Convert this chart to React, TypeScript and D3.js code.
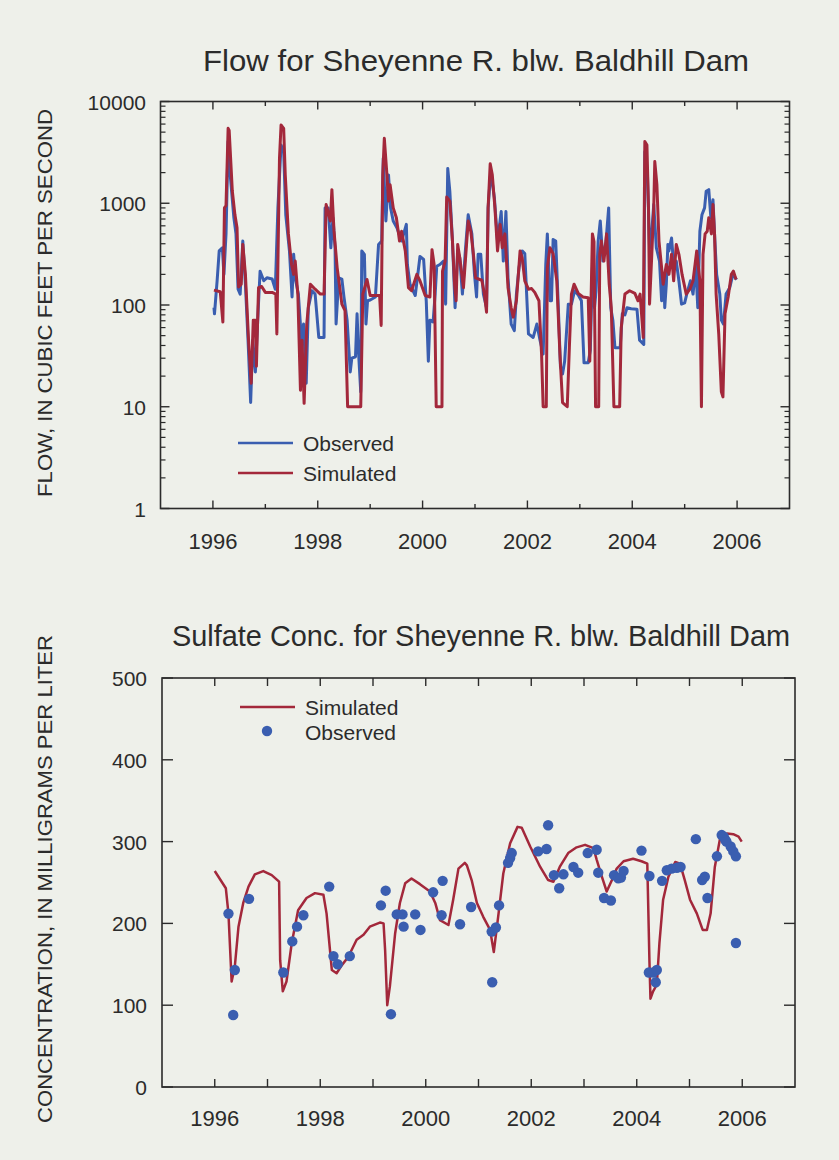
import React from "react";
import * as d3 from "d3";

// Axis ticks
const yearTicks = [1996, 1997, 1998, 1999, 2000, 2001, 2002, 2003, 2004, 2005, 2006];
const yearLabels = [1996, 1998, 2000, 2002, 2004, 2006];
const flowTicks = [1, 10, 100, 1000, 10000];
const concTicks = [0, 100, 200, 300, 400, 500];

// Flow, observed (cubic feet per second)
const obsFlowYear = [
  1996.02, 1996.03, 1996.08, 1996.12, 1996.18, 1996.21, 1996.25, 1996.29, 1996.33, 1996.4,
  1996.44, 1996.48, 1996.52, 1996.57, 1996.62, 1996.67, 1996.72, 1996.76, 1996.81, 1996.86,
  1996.9, 1996.97, 1997.03, 1997.13, 1997.19, 1997.24, 1997.3, 1997.35, 1997.39, 1997.46,
  1997.51, 1997.54, 1997.58, 1997.63, 1997.69, 1997.73, 1997.78, 1997.82, 1997.89, 1997.95,
  1998.02, 1998.12, 1998.14, 1998.2, 1998.25, 1998.29, 1998.33, 1998.35, 1998.4, 1998.46,
  1998.5, 1998.56, 1998.62, 1998.65, 1998.72, 1998.75, 1998.78, 1998.82, 1998.84, 1998.89,
  1998.92, 1998.95, 1999.0, 1999.1, 1999.16, 1999.22, 1999.25, 1999.3, 1999.35, 1999.39,
  1999.44, 1999.51, 1999.6, 1999.69, 1999.71, 1999.76, 1999.86, 1999.95, 2000.02, 2000.07,
  2000.11, 2000.14, 2000.2, 2000.24, 2000.27, 2000.33, 2000.4, 2000.44, 2000.48, 2000.52,
  2000.57, 2000.62, 2000.67, 2000.71, 2000.76, 2000.82, 2000.87, 2000.94, 2000.99, 2001.03,
  2001.06, 2001.11, 2001.16, 2001.22, 2001.25, 2001.3, 2001.37, 2001.43, 2001.5, 2001.54,
  2001.59, 2001.63, 2001.69, 2001.75, 2001.79, 2001.84, 2001.9, 2001.95, 2002.02, 2002.11,
  2002.18, 2002.24, 2002.3, 2002.35, 2002.38, 2002.43, 2002.46, 2002.49, 2002.54, 2002.59,
  2002.63, 2002.67, 2002.71, 2002.78, 2002.84, 2002.9, 2002.97, 2003.03, 2003.08, 2003.16,
  2003.2, 2003.24, 2003.28, 2003.31, 2003.35, 2003.39, 2003.44, 2003.5, 2003.55, 2003.59,
  2003.63, 2003.67, 2003.77, 2003.81, 2003.86, 2003.9, 2003.98, 2004.09, 2004.14, 2004.22,
  2004.24, 2004.29, 2004.33, 2004.37, 2004.41, 2004.46, 2004.52, 2004.56, 2004.6, 2004.62,
  2004.65, 2004.68, 2004.7, 2004.75, 2004.79, 2004.84, 2004.89, 2004.94, 2005.0, 2005.04,
  2005.11, 2005.16, 2005.21, 2005.25, 2005.29, 2005.33, 2005.38, 2005.41, 2005.46, 2005.5,
  2005.54, 2005.57, 2005.61, 2005.67, 2005.7, 2005.74, 2005.79, 2005.86, 2005.92, 2005.99,
];
const obsFlowCfs = [
  94, 82, 173, 340, 365, 200, 500, 4040, 1900, 720,
  500, 143, 128, 425, 160, 45, 11, 45, 22, 82,
  215, 173, 185, 180, 143, 900, 3740, 3200, 770, 340,
  120, 315, 173, 128, 45, 65, 17, 94, 138, 128,
  48, 48, 900, 900, 365, 720, 365, 65, 185, 180,
  120, 71, 22, 30, 31, 82, 33, 14, 340, 315,
  65, 110, 112, 120, 394, 425, 2770, 670, 1900, 900,
  670, 574, 425, 620, 250, 160, 124, 300, 280, 110,
  28, 71, 68, 128, 240, 250, 270, 102, 2200, 1310,
  425, 94, 340, 290, 128, 365, 770, 500, 200, 120,
  315, 315, 128, 94, 900, 2050, 1130, 425, 830, 270,
  830, 185, 65, 56, 128, 233, 340, 320, 52, 48,
  65, 45, 33, 250, 500, 110, 110, 440, 425, 94,
  25, 21, 28, 102, 102, 138, 125, 110, 27, 27,
  36, 233, 94, 138, 425, 670, 270, 425, 900, 94,
  71, 38, 38, 82, 80, 94, 92, 91, 45, 41,
  3200, 1900, 365, 500, 970, 365, 270, 110, 200, 94,
  160, 394, 340, 455, 250, 270, 173, 102, 105, 128,
  173, 128, 250, 94, 530, 770, 900, 1310, 1360, 720,
  1085, 500, 200, 128, 71, 65, 128, 148, 200, 178,
];

// Flow, simulated (cubic feet per second)
const simFlowYear = [
  1996.02, 1996.14, 1996.19, 1996.22, 1996.25, 1996.29, 1996.31, 1996.37, 1996.42, 1996.46,
  1996.49, 1996.54, 1996.57, 1996.62, 1996.68, 1996.73, 1996.77, 1996.81, 1996.83, 1996.87,
  1996.93, 1997.0, 1997.13, 1997.2, 1997.22, 1997.27, 1997.3, 1997.35, 1997.38, 1997.44,
  1997.5, 1997.54, 1997.57, 1997.62, 1997.67, 1997.7, 1997.74, 1997.79, 1997.86, 1997.95,
  1998.05, 1998.12, 1998.16, 1998.24, 1998.27, 1998.31, 1998.37, 1998.42, 1998.46, 1998.52,
  1998.57, 1998.82, 1998.86, 1998.94, 1999.0, 1999.18, 1999.21, 1999.24, 1999.27, 1999.32,
  1999.35, 1999.38, 1999.44, 1999.5, 1999.56, 1999.6, 1999.67, 1999.73, 1999.79, 1999.89,
  1999.95, 2000.05, 2000.14, 2000.18, 2000.22, 2000.26, 2000.37, 2000.38, 2000.43, 2000.46,
  2000.52, 2000.57, 2000.61, 2000.64, 2000.67, 2000.71, 2000.78, 2000.87, 2000.92, 2000.97,
  2001.01, 2001.13, 2001.18, 2001.22, 2001.25, 2001.29, 2001.33, 2001.38, 2001.43, 2001.48,
  2001.52, 2001.57, 2001.59, 2001.63, 2001.69, 2001.73, 2001.79, 2001.86, 2001.9, 2001.95,
  2002.02, 2002.08, 2002.14, 2002.22, 2002.27, 2002.3, 2002.36, 2002.38, 2002.43, 2002.49,
  2002.56, 2002.62, 2002.67, 2002.76, 2002.8, 2002.84, 2002.89, 2002.97, 2003.06, 2003.16,
  2003.19, 2003.24, 2003.27, 2003.3, 2003.36, 2003.38, 2003.41, 2003.46, 2003.51, 2003.56,
  2003.6, 2003.65, 2003.76, 2003.79, 2003.86, 2003.95, 2004.05, 2004.11, 2004.15, 2004.21,
  2004.24, 2004.28, 2004.31, 2004.33, 2004.37, 2004.41, 2004.43, 2004.47, 2004.51, 2004.56,
  2004.59, 2004.65, 2004.7, 2004.75, 2004.79, 2004.84, 2004.89, 2004.95, 2005.03, 2005.1,
  2005.16, 2005.23, 2005.29, 2005.32, 2005.35, 2005.39, 2005.43, 2005.46, 2005.51, 2005.54,
  2005.57, 2005.6, 2005.65, 2005.7, 2005.73, 2005.77, 2005.83, 2005.89, 2005.93, 2005.98,
];
const simFlowCfs = [
  140, 135, 68, 900, 950, 5450, 5200, 1320, 770, 574,
  150, 160, 394, 200, 45, 17, 71, 71, 25, 148,
  152, 133, 133, 128, 52, 2770, 5870, 5450, 1900, 500,
  250, 200, 270, 128, 14.5, 45, 10.8, 65, 160, 143,
  128, 128, 970, 670, 1360, 535, 233, 148, 102, 88,
  10, 10, 128, 178, 124, 124, 63, 1900, 4350, 1900,
  1050, 1520, 900, 720, 425, 530, 340, 148, 138, 200,
  173, 124, 120, 350, 250, 10, 10, 215, 270, 1150,
  1050, 425, 160, 110, 394, 290, 148, 670, 530, 315,
  185, 175, 128, 85, 900, 2440, 1900, 900, 340, 620,
  365, 500, 340, 148, 94, 76, 110, 340, 290, 173,
  143, 145, 133, 110, 33, 10, 10, 233, 365, 320,
  173, 33, 11, 10, 38, 128, 160, 130, 120, 118,
  28, 500, 420, 10, 10, 315, 425, 270, 500, 160,
  94, 10, 10, 60, 128, 138, 130, 110, 128, 48,
  4040, 3740, 900, 102, 290, 900, 2570, 1520, 425, 233,
  160, 250, 200, 315, 173, 394, 315, 200, 128, 143,
  173, 340, 173, 10, 315, 500, 530, 720, 500, 970,
  500, 128, 52, 14, 12.5, 82, 120, 200, 215, 178,
];

// Sulfate concentration, simulated (milligrams per liter)
const simConcYear = [
  1996.0, 1996.21, 1996.26, 1996.32, 1996.38, 1996.45, 1996.54, 1996.64, 1996.76, 1996.92,
  1997.08, 1997.22, 1997.24, 1997.29, 1997.36, 1997.46, 1997.58, 1997.74, 1997.9, 1998.06,
  1998.12, 1998.22, 1998.31, 1998.41, 1998.53, 1998.69, 1998.82, 1998.94, 1999.13, 1999.2,
  1999.23, 1999.27, 1999.32, 1999.42, 1999.51, 1999.61, 1999.73, 1999.89, 2000.08, 2000.18,
  2000.27, 2000.43, 2000.52, 2000.62, 2000.74, 2000.78, 2000.87, 2000.97, 2001.09, 2001.22,
  2001.29, 2001.38, 2001.47, 2001.6, 2001.74, 2001.82, 2001.98, 2002.17, 2002.32, 2002.42,
  2002.54, 2002.7, 2002.86, 2003.02, 2003.18, 2003.24, 2003.34, 2003.43, 2003.53, 2003.62,
  2003.75, 2003.93, 2004.09, 2004.2, 2004.24, 2004.26, 2004.31, 2004.38, 2004.43, 2004.5,
  2004.6, 2004.73, 2004.82, 2004.91, 2005.01, 2005.14, 2005.25, 2005.33, 2005.4, 2005.48,
  2005.58, 2005.71, 2005.83, 2005.93, 2005.99,
];
const simConcMgL = [
  264, 243, 212, 129, 147, 196, 225, 245, 260, 264,
  259, 251, 155, 117, 129, 176, 216, 231, 237, 235,
  212, 143, 139, 149, 159, 180, 186, 196, 201, 200,
  167, 100, 123, 188, 225, 249, 255, 248, 239, 225,
  204, 198, 229, 267, 274, 271, 253, 225, 208, 192,
  165, 212, 261, 298, 318, 317, 294, 269, 253, 251,
  269, 286, 293, 296, 292, 278, 257, 239, 253, 267,
  276, 279, 276, 273, 155, 108, 117, 125, 176, 229,
  257, 275, 273, 253, 229, 212, 192, 192, 212, 269,
  304, 310, 309, 306, 300,
];

// Sulfate concentration, observed samples (milligrams per liter)
const obsConcYear = [
  1996.26, 1996.35, 1996.38, 1996.65, 1997.3, 1997.47, 1997.56, 1997.68, 1998.17, 1998.25,
  1998.33, 1998.56, 1999.15, 1999.24, 1999.34, 1999.45, 1999.56, 1999.58, 1999.8, 1999.9,
  2000.14, 2000.3, 2000.32, 2000.65, 2000.86, 2001.25, 2001.26, 2001.33, 2001.39, 2001.56,
  2001.6, 2001.63, 2002.13, 2002.29, 2002.32, 2002.43, 2002.53, 2002.61, 2002.8, 2002.89,
  2003.07, 2003.24, 2003.27, 2003.38, 2003.51, 2003.57, 2003.65, 2003.7, 2003.75, 2004.09,
  2004.23, 2004.24, 2004.31, 2004.36, 2004.38, 2004.48, 2004.57, 2004.66, 2004.76, 2004.83,
  2005.12, 2005.24, 2005.29, 2005.34, 2005.52, 2005.61, 2005.65, 2005.68, 2005.7, 2005.78,
  2005.83, 2005.88, 2005.88,
];
const obsConcMgL = [
  212, 88, 143, 230, 140, 178, 196, 210, 245, 160,
  150, 160, 222, 240, 89, 211, 211, 196, 211, 192,
  238, 210, 252, 199, 220, 190, 128, 195, 222, 274,
  280, 286, 288, 291, 320, 259, 243, 260, 269, 262,
  286, 290, 262, 231, 228, 259, 255, 256, 264, 289,
  140, 258, 140, 128, 143, 252, 265, 267, 268, 269,
  303, 253, 257, 231, 282, 308, 306, 302, 300, 294,
  288, 282, 176,
];

const BG = "#eef0ea";
const INK = "#2b2b2b";
const BLUE = "#3a5eb0";
const RED = "#a3283b";
const SANS = "'Liberation Sans', Arial, Helvetica, sans-serif";
const NARROW = "'Liberation Sans Narrow', 'Liberation Sans', Arial, sans-serif";

const zip = (xs: number[], ys: number[]) => xs.map((x, i) => [x, ys[i]] as [number, number]);

export default function App() {
  // Flow panel
  const fx = d3.scaleLinear().domain([1995, 2007]).range([160.5, 789.5]);
  const fy = d3.scaleLog().domain([1, 10000]).range([508.5, 101.5]);
  // Sulfate panel
  const cx = d3.scaleLinear().domain([1995, 2007]).range([162, 795]);
  const cy = d3.scaleLinear().domain([0, 500]).range([1087, 678]);

  const flowLine = d3
    .line<[number, number]>()
    .x((d) => fx(d[0]))
    .y((d) => fy(d[1]));
  const concLine = d3
    .line<[number, number]>()
    .x((d) => cx(d[0]))
    .y((d) => cy(d[1]));

  const minorFlow: number[] = [];
  for (let p = 0; p < 4; p++) {
    for (let k = 2; k <= 9; k++) minorFlow.push(k * Math.pow(10, p));
  }

  const [fx0, fx1] = fx.range();
  const [fy0, fy1] = fy.range();
  const [cx0, cx1] = cx.range();
  const [cy0, cy1] = cy.range();

  return (
    <div style={{ position: "absolute", left: 0, top: 0, width: 839, height: 1160 }}>
      <svg width={839} height={1160} style={{ display: "block" }}>
        <rect x={0} y={0} width={839} height={1160} fill={BG} />

        {/* ---------- Flow panel ---------- */}
        <text
          x={476}
          y={71}
          textAnchor="middle"
          fontFamily={SANS}
          fontSize={30}
          fill={INK}
          textLength={546}
          lengthAdjust="spacingAndGlyphs"
        >
          Flow for Sheyenne R. blw. Baldhill Dam
        </text>

        {/* year ticks, top and bottom edges */}
        {yearTicks.map((yr) => {
          const len = yearLabels.includes(yr) ? 8 : 4.5;
          const x = fx(yr);
          return (
            <g key={"fyt" + yr} stroke={INK} strokeWidth={1.4}>
              <line x1={x} x2={x} y1={fy0} y2={fy0 - len} />
              <line x1={x} x2={x} y1={fy1} y2={fy1 + len} />
            </g>
          );
        })}
        {yearLabels.map((yr) => (
          <text
            key={"fyl" + yr}
            x={fx(yr)}
            y={fy0 + 40}
            textAnchor="middle"
            fontFamily={SANS}
            fontSize={22}
            fill={INK}
          >
            {yr}
          </text>
        ))}

        {/* log ticks, left and right edges */}
        {flowTicks.map((v) => (
          <g key={"fvt" + v} stroke={INK} strokeWidth={1.4}>
            <line x1={fx0} x2={fx0 + 9} y1={fy(v)} y2={fy(v)} />
            <line x1={fx1} x2={fx1 - 9} y1={fy(v)} y2={fy(v)} />
          </g>
        ))}
        {minorFlow.map((v) => (
          <g key={"fvm" + v} stroke={INK} strokeWidth={1.2}>
            <line x1={fx0} x2={fx0 + 5} y1={fy(v)} y2={fy(v)} />
            <line x1={fx1} x2={fx1 - 5} y1={fy(v)} y2={fy(v)} />
          </g>
        ))}
        {flowTicks.map((v) => (
          <text
            key={"fvl" + v}
            x={146}
            y={fy(v) + 8}
            textAnchor="end"
            fontFamily={SANS}
            fontSize={21}
            fill={INK}
          >
            {v}
          </text>
        ))}
        <text
          transform={`translate(52, 303) rotate(-90)`}
          textAnchor="middle"
          fontFamily={NARROW}
          fontSize={21}
          fill={INK}
          textLength={388}
          lengthAdjust="spacingAndGlyphs"
        >
          FLOW, IN CUBIC FEET PER SECOND
        </text>

        <path
          d={flowLine(zip(obsFlowYear, obsFlowCfs)) || ""}
          fill="none"
          stroke={BLUE}
          strokeWidth={3}
          strokeLinejoin="round"
        />
        <path
          d={flowLine(zip(simFlowYear, simFlowCfs)) || ""}
          fill="none"
          stroke={RED}
          strokeWidth={3}
          strokeLinejoin="round"
        />

        {/* legend */}
        <line x1={238} x2={293} y1={443} y2={443} stroke={BLUE} strokeWidth={2.6} />
        <text x={303} y={451} fontFamily={SANS} fontSize={21} fill={INK}>
          Observed
        </text>
        <line x1={238} x2={293} y1={473} y2={473} stroke={RED} strokeWidth={2.6} />
        <text x={303} y={481} fontFamily={SANS} fontSize={21} fill={INK}>
          Simulated
        </text>

        <rect
          x={fx0}
          y={fy1}
          width={fx1 - fx0}
          height={fy0 - fy1}
          fill="none"
          stroke={INK}
          strokeWidth={1.6}
        />

        {/* ---------- Sulfate panel ---------- */}
        <text
          x={481}
          y={646}
          textAnchor="middle"
          fontFamily={SANS}
          fontSize={30}
          fill={INK}
          textLength={618}
          lengthAdjust="spacingAndGlyphs"
        >
          Sulfate Conc. for Sheyenne R. blw. Baldhill Dam
        </text>

        {yearTicks.map((yr) => {
          const x = cx(yr);
          return (
            <g key={"cyt" + yr} stroke={INK} strokeWidth={1.4}>
              <line x1={x} x2={x} y1={cy0} y2={cy0 - 8} />
              <line x1={x} x2={x} y1={cy1} y2={cy1 + 8} />
            </g>
          );
        })}
        {yearLabels.map((yr) => (
          <text
            key={"cyl" + yr}
            x={cx(yr)}
            y={cy0 + 39}
            textAnchor="middle"
            fontFamily={SANS}
            fontSize={22}
            fill={INK}
          >
            {yr}
          </text>
        ))}
        {concTicks.map((v) => (
          <g key={"cvt" + v} stroke={INK} strokeWidth={1.4}>
            <line x1={cx0} x2={cx0 + 11} y1={cy(v)} y2={cy(v)} />
            <line x1={cx1} x2={cx1 - 11} y1={cy(v)} y2={cy(v)} />
          </g>
        ))}
        {concTicks.map((v) => (
          <text
            key={"cvl" + v}
            x={147}
            y={cy(v) + 8}
            textAnchor="end"
            fontFamily={SANS}
            fontSize={21}
            fill={INK}
          >
            {v}
          </text>
        ))}
        <text
          transform={`translate(52, 879) rotate(-90)`}
          textAnchor="middle"
          fontFamily={NARROW}
          fontSize={21}
          fill={INK}
          textLength={488}
          lengthAdjust="spacingAndGlyphs"
        >
          CONCENTRATION, IN MILLIGRAMS PER LITER
        </text>

        <path
          d={concLine(zip(simConcYear, simConcMgL)) || ""}
          fill="none"
          stroke={RED}
          strokeWidth={2.5}
          strokeLinejoin="round"
        />
        {obsConcYear.map((yr, i) => (
          <circle key={"oc" + i} cx={cx(yr)} cy={cy(obsConcMgL[i])} r={5.2} fill={BLUE} />
        ))}

        {/* legend */}
        <line x1={240} x2={295} y1={707} y2={707} stroke={RED} strokeWidth={2.5} />
        <text x={305} y={715} fontFamily={SANS} fontSize={21} fill={INK}>
          Simulated
        </text>
        <circle cx={267} cy={731} r={5.2} fill={BLUE} />
        <text x={305} y={740} fontFamily={SANS} fontSize={21} fill={INK}>
          Observed
        </text>

        <rect
          x={cx0}
          y={cy1}
          width={cx1 - cx0}
          height={cy0 - cy1}
          fill="none"
          stroke={INK}
          strokeWidth={1.6}
        />
      </svg>
    </div>
  );
}
